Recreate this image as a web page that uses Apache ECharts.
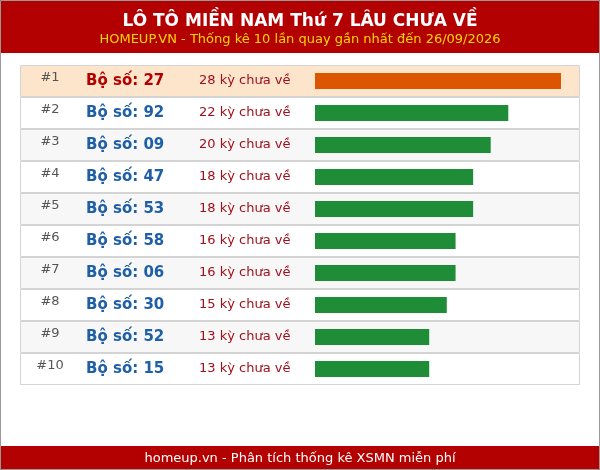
<!DOCTYPE html><html><head><meta charset="utf-8"><script src="https://cdn.jsdelivr.net/npm/echarts@6/dist/echarts.min.js"></script>
<style>body{margin:0}#c{width:600px;height:470px}</style></head><body><div id="c"></div><script>
const numbers=['27','92','09','47','53','58','06','30','52','15'];
const counts=[28,22,20,18,18,16,16,15,13,13];
const ranks=numbers.map((_,i)=>'#'+(i+1));
const cats=numbers.map((_,i)=>i);
const ch=echarts.init(document.getElementById('c'));
const F='DejaVu Sans';
const base=[
  {type:'rect',shape:{x:0,y:0,width:600,height:53},style:{fill:'#b30000'}},
  {type:'rect',shape:{x:0,y:446,width:600,height:24},style:{fill:'#b30000'}},
  {type:'rect',shape:{x:0.5,y:0.5,width:599,height:469},style:{fill:null,stroke:'#999',lineWidth:1}},
  {type:'text',x:300,y:22,style:{text:'LÔ TÔ MIỀN NAM Thứ 7 LÂU CHƯA VỀ',fill:'#fff',font:'bold 17px "DejaVu Sans"',align:'center',verticalAlign:'middle'}},
  {type:'text',x:300,y:40,style:{text:'HOMEUP.VN - Thống kê 10 lần quay gần nhất đến 26/09/2026',fill:'#ffd700',font:'13px "DejaVu Sans"',align:'center',verticalAlign:'middle'}},
  {type:'text',x:300,y:459,style:{text:'homeup.vn - Phân tích thống kê XSMN miễn phí',fill:'#fff',font:'13px "DejaVu Sans"',align:'center',verticalAlign:'middle'}}
];
ch.setOption({
 animation:false,backgroundColor:'#fff',textStyle:{fontFamily:F},
 graphic:base,
 grid:[{left:20,width:560,top:65,height:320},{left:315,width:246,top:65,height:320}],
 xAxis:[{gridIndex:0,type:'value',max:1,show:false},{gridIndex:1,type:'value',min:0,max:28,show:false}],
 yAxis:[{gridIndex:0,type:'category',data:cats,inverse:true,show:false},{gridIndex:1,type:'category',data:cats,inverse:true,show:false}],
 series:[
  {type:'bar',xAxisIndex:0,yAxisIndex:0,barWidth:'100%',silent:true,z:1,
   data:cats.map(i=>({value:1,itemStyle:{color:i===0?'#fde5cc':(i%2?'#fff':'#f7f7f7'),borderColor:'#d4d4d4',borderWidth:1}}))},
  {type:'bar',xAxisIndex:1,yAxisIndex:1,barWidth:16,silent:true,z:2,
   data:counts.map((v,i)=>({value:v,itemStyle:{color:i===0?'#de5500':'#1f8c38'}}))}
 ]
});
const txt=[];
cats.forEach(i=>{
 const y=ch.convertToPixel({gridIndex:0},[0,i])[1];
 txt.push({type:'text',z:100,x:50,y:y-3,style:{text:ranks[i],fill:'#555',font:'13px "DejaVu Sans"',align:'center',verticalAlign:'middle'}});
 txt.push({type:'text',z:100,x:86,y:y,style:{text:'Bộ số: '+numbers[i],fill:i===0?'#b30000':'#1f5fa8',font:'bold 15px "DejaVu Sans"',align:'left',verticalAlign:'middle'}});
 txt.push({type:'text',z:100,x:199,y:y,style:{text:counts[i]+' kỳ chưa về',fill:'#a0101a',font:'13px "DejaVu Sans"',align:'left',verticalAlign:'middle'}});
});
ch.setOption({graphic:base.concat(txt)});
</script></body></html>
